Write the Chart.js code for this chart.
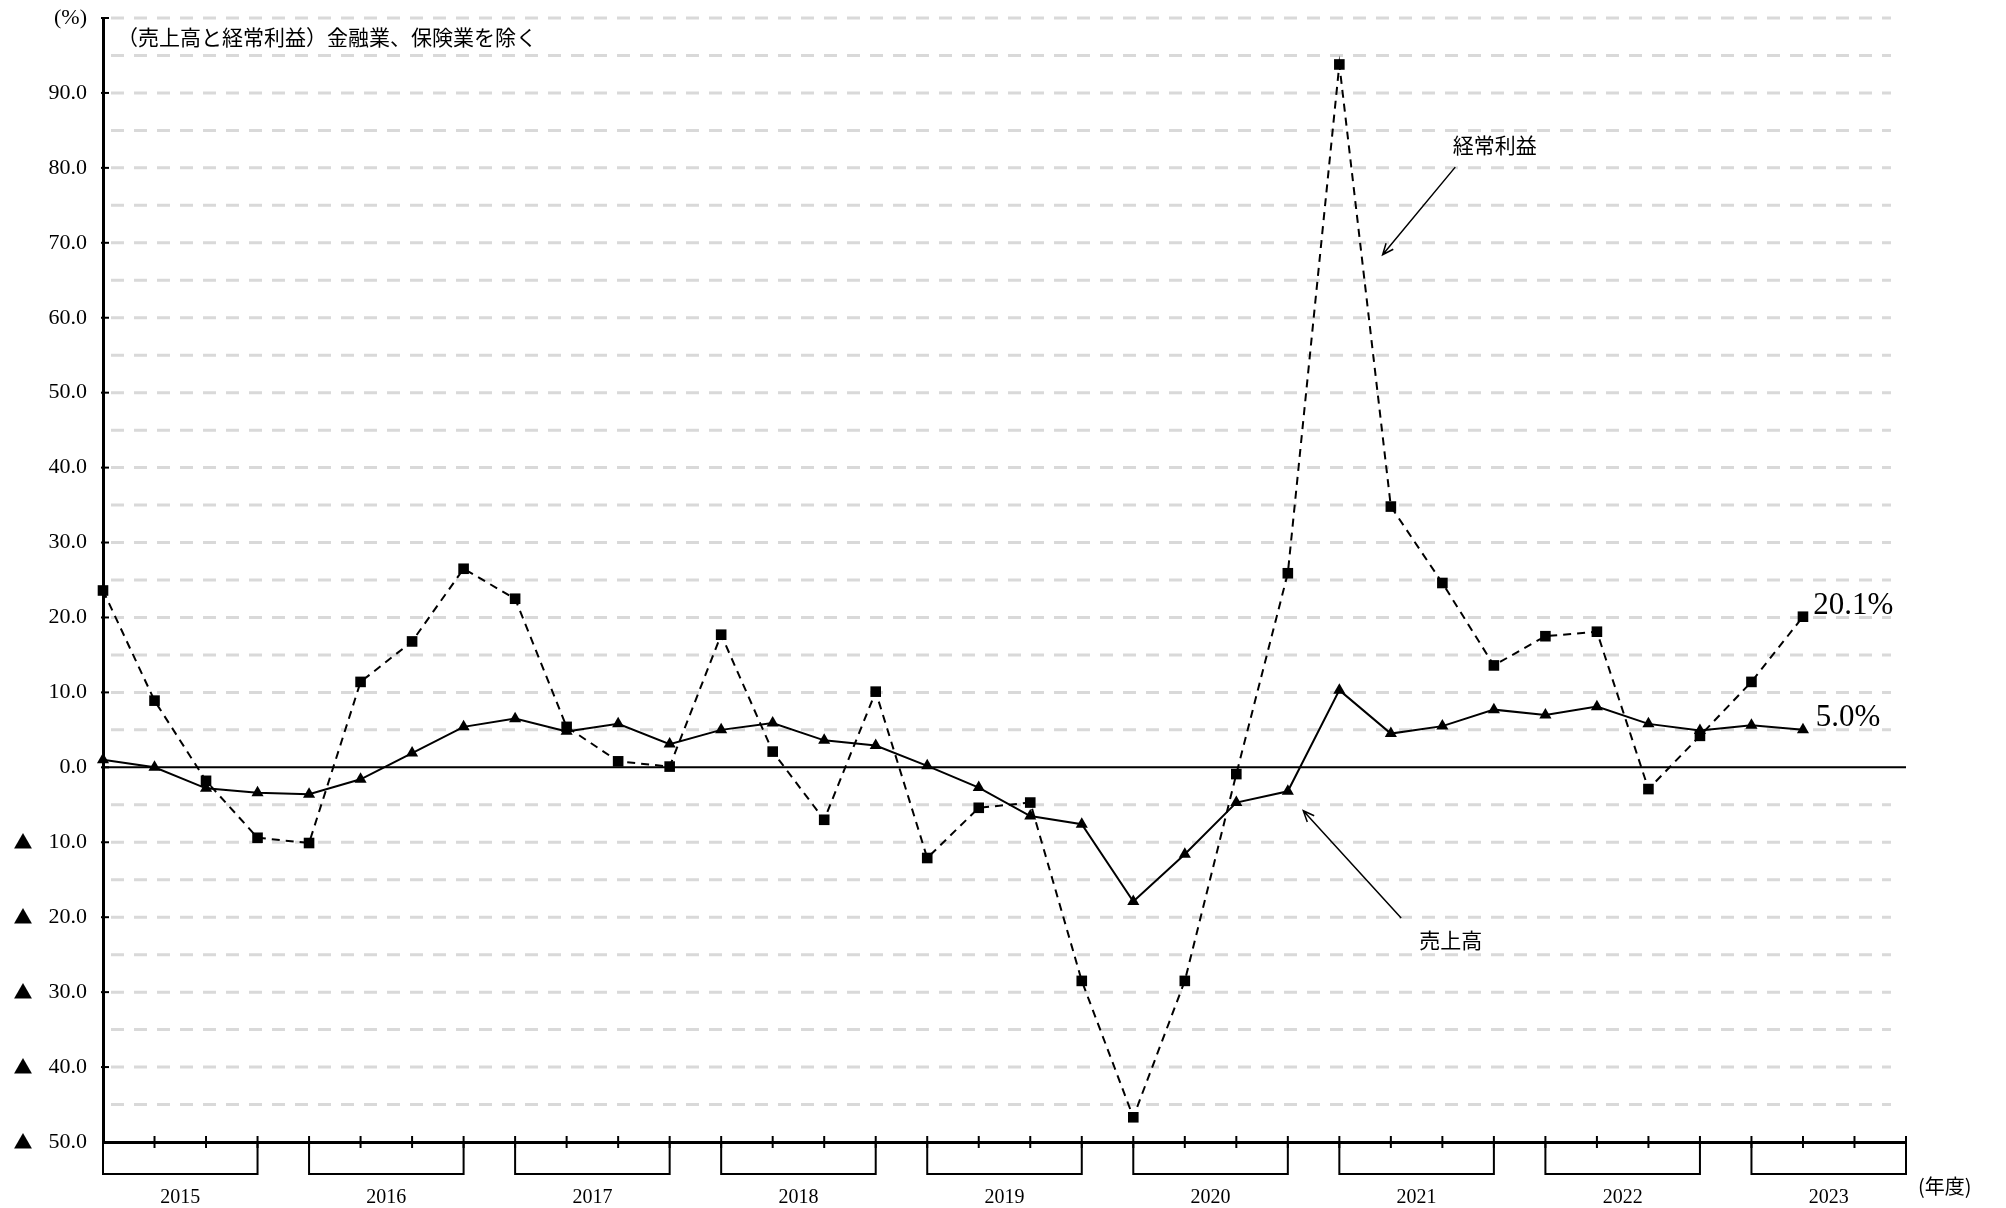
<!DOCTYPE html>
<html lang="ja">
<head>
<meta charset="utf-8">
<script src="https://cdn.jsdelivr.net/npm/chart.js@4"></script>
<style>
  body { margin: 0; background: #fff; }
  #wrap { width: 2006px; height: 1208px; }
</style>
</head>
<body>
<div id="wrap"><canvas id="lineChart"></canvas></div>
<script>
// fiscal years and quarters (x axis runs to 2023 Q4, data ends at 2023 Q2)
const years = ['2015', '2016', '2017', '2018', '2019', '2020', '2021', '2022', '2023'];
const quarters = years.flatMap(y => ['Q1', 'Q2', 'Q3', 'Q4'].map(q => y + q));

// 経常利益 (ordinary profit), % change
const profit = [23.6, 8.9, -1.8, -9.4, -10.1, 11.4, 16.8, 26.5, 22.5, 5.4, 0.8, 0.1,
  17.7, 2.1, -7.0, 10.1, -12.1, -5.4, -4.7, -28.5, -46.7, -28.5, -0.9, 25.9,
  93.8, 34.8, 24.6, 13.6, 17.5, 18.1, -2.9, 4.2, 11.4, 20.1];

// 売上高 (sales), % change
const sales = [1.0, 0.0, -2.8, -3.4, -3.6, -1.6, 1.9, 5.4, 6.5, 4.8, 5.8, 3.1,
  5.0, 5.9, 3.6, 2.9, 0.2, -2.7, -6.5, -7.6, -17.9, -11.6, -4.7, -3.2,
  10.3, 4.5, 5.5, 7.7, 7.0, 8.1, 5.8, 4.9, 5.6, 5.0];

const serif = '"Liberation Serif", "Noto Sans CJK JP", "DejaVu Serif", serif';
const gothic = '"Noto Sans CJK JP", sans-serif';

function arrow(ctx, x1, y1, x2, y2) {
    const ang = Math.atan2(y2 - y1, x2 - x1);
    ctx.beginPath();
    ctx.moveTo(x1, y1);
    ctx.lineTo(x2, y2);
    ctx.moveTo(x2 - 12 * Math.cos(ang - 0.4), y2 - 12 * Math.sin(ang - 0.4));
    ctx.lineTo(x2, y2);
    ctx.lineTo(x2 - 12 * Math.cos(ang + 0.4), y2 - 12 * Math.sin(ang + 0.4));
    ctx.stroke();
}

const deco = {
    id: 'deco',
    beforeDatasetsDraw(chart) {
        const { ctx, chartArea: a, scales: { x, y } } = chart;
        ctx.save();
        // light dashed grid every 5 points
        ctx.strokeStyle = '#d9d9d9';
        ctx.lineWidth = 3;
        ctx.setLineDash([13, 10]);
        for (let v = -45; v <= 100; v += 5) {
            if (v === 0) continue;
            const py = y.getPixelForValue(v);
            ctx.beginPath();
            ctx.moveTo(a.left + 8, py);
            ctx.lineTo(a.right - 15, py);
            ctx.stroke();
        }
        ctx.setLineDash([]);
        // zero line
        ctx.strokeStyle = '#000';
        ctx.lineWidth = 2;
        const y0 = y.getPixelForValue(0);
        ctx.beginPath();
        ctx.moveTo(a.left, y0);
        ctx.lineTo(a.right, y0);
        ctx.stroke();
        // small ticks on y axis
        for (let v = -40; v <= 100; v += 10) {
            const py = y.getPixelForValue(v);
            ctx.beginPath();
            ctx.moveTo(a.left - 2, py);
            ctx.lineTo(a.left + 6, py);
            ctx.stroke();
        }
        ctx.restore();
    },
    afterDraw(chart) {
        const { ctx, chartArea: a, scales: { x, y } } = chart;
        ctx.save();
        ctx.strokeStyle = '#000';
        ctx.fillStyle = '#000';
        ctx.lineWidth = 2;
        const base = a.bottom;

        // ▲ (minus) marks for negative tick labels
        ctx.font = '19px ' + gothic;
        ctx.textAlign = 'center';
        ctx.textBaseline = 'middle';
        y.ticks.forEach(t => {
            if (t.value < 0) ctx.fillText('▲', 23, y.getPixelForValue(t.value));
        });

        // quarter ticks
        quarters.forEach((q, i) => {
            const px = x.getPixelForValue(i);
            ctx.beginPath();
            ctx.moveTo(px, base - 6);
            ctx.lineTo(px, base + 6);
            ctx.stroke();
        });
        // year brackets + labels
        ctx.font = '20px ' + serif;
        years.forEach((yr, i) => {
            const l = x.getPixelForValue(i * 4);
            const r = x.getPixelForValue(i * 4 + 3);
            ctx.beginPath();
            ctx.moveTo(l, base);
            ctx.lineTo(l, base + 32);
            ctx.lineTo(r, base + 32);
            ctx.lineTo(r, base);
            ctx.stroke();
            ctx.fillText(yr, x.getPixelForValue(i * 4 + 1.5), base + 56);
        });
        ctx.textAlign = 'left';
        ctx.font = '20px ' + gothic;
        ctx.fillText('(年度)', a.right + 12, base + 44);

        // title
        ctx.font = '21px ' + gothic;
        ctx.fillText('（売上高と経常利益）金融業、保険業を除く', a.left + 14, 37);

        // series annotations
        ctx.font = '21px ' + gothic;
        ctx.fillText('経常利益', x.getPixelForValue(26.2), y.getPixelForValue(83.0));
        ctx.fillText('売上高', x.getPixelForValue(25.55), y.getPixelForValue(-23.0));
        ctx.lineWidth = 1.5;
        arrow(ctx, x.getPixelForValue(26.25), y.getPixelForValue(80.1),
                   x.getPixelForValue(24.84), y.getPixelForValue(68.4));
        arrow(ctx, x.getPixelForValue(25.2), y.getPixelForValue(-20.1),
                   x.getPixelForValue(23.3), y.getPixelForValue(-5.8));

        // latest values
        ctx.font = '31px ' + serif;
        const last = profit.length - 1;
        ctx.fillText(profit[last].toFixed(1) + '%', x.getPixelForValue(last + 0.2), y.getPixelForValue(21.6));
        ctx.fillText(sales[last].toFixed(1) + '%', x.getPixelForValue(last + 0.25), y.getPixelForValue(6.6));
        ctx.restore();
    }
};

const ctx = document.getElementById('lineChart').getContext('2d');
new Chart(ctx, {
    type: 'line',
    data: {
        labels: quarters,
        datasets: [{
            label: '経常利益',
            data: profit,
            borderColor: '#000',
            backgroundColor: '#000',
            borderWidth: 2,
            borderDash: [8, 6],
            pointStyle: 'rect',
            pointRadius: 7.5,
            pointBorderWidth: 0,
            tension: 0,
            clip: false
        }, {
            label: '売上高',
            data: sales,
            borderColor: '#000',
            backgroundColor: '#000',
            borderWidth: 2,
            pointStyle: 'triangle',
            pointRadius: 7,
            pointBorderWidth: 0,
            tension: 0,
            clip: false
        }]
    },
    options: {
        responsive: true,
        maintainAspectRatio: false,
        animation: false,
        layout: { padding: { top: 18, right: 100, left: 0, bottom: 0 } },
        plugins: {
            legend: { display: false },
            tooltip: { enabled: false }
        },
        scales: {
            x: {
                type: 'category',
                offset: false,
                grid: { display: false, drawTicks: false },
                border: { color: '#000', width: 3 },
                ticks: { display: false },
                afterFit: s => { s.height = 66; }
            },
            y: {
                min: -50,
                max: 100,
                grid: { display: false, drawTicks: false },
                border: { color: '#000', width: 3 },
                ticks: {
                    stepSize: 10,
                    padding: 16,
                    color: '#000',
                    font: { family: serif, size: 22 },
                    callback: v => v === 100 ? '(%)' : Math.abs(v).toFixed(1)
                },
                afterFit: s => { s.width = 103; s.paddingTop = 0; s.paddingBottom = 0; }
            }
        }
    },
    plugins: [deco]
});
</script>
</body>
</html>
